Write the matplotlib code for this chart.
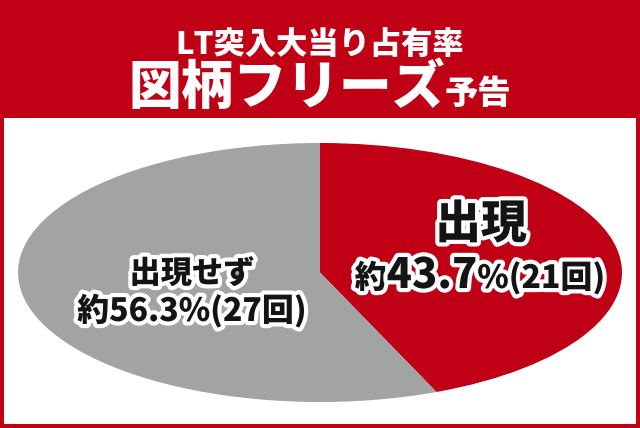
import matplotlib
matplotlib.use("Agg")
import matplotlib.pyplot as plt
import matplotlib.patheffects as pe
from matplotlib.patches import Rectangle

plt.rcParams['font.family'] = ['Noto Sans CJK JP', 'DejaVu Sans']

title_top = "LT突入大当り占有率"
title_main = "図柄フリーズ"
title_sub = "予告"
labels = ["出現", "出現せず"]
shares = [43.7, 56.3]
counts = [21, 27]
slice_colors = ["#BF0015", "#A2A3A5"]
red = "#BF0015"

W, H = 640, 428
fig = plt.figure(figsize=(W / 100, H / 100), dpi=100)
fig.patch.set_facecolor(red)

# white panel under the header
fig.add_artist(Rectangle((4 / W, 4 / H), 632 / W, (H - 118 - 4) / H,
                         transform=fig.transFigure, facecolor="white",
                         edgecolor="none", zorder=0))

# stretched pie
ax = fig.add_axes([18 / W, 26 / H, 604 / W, 259 / H])
ax.pie(shares, colors=slice_colors, startangle=90, counterclock=False,
       wedgeprops=dict(linewidth=0))
ax.set_aspect("auto")
ax.set_xlim(-1, 1)
ax.set_ylim(-1, 1)
ax.axis("off")

renderer = fig.canvas.get_renderer()
outline = [pe.withStroke(linewidth=6, foreground="white")]


def row(pieces, cx, y, color="#141414", effects=None, weight="black"):
    # lay out text pieces of different sizes side by side, centred on cx
    texts = []
    for s, size in pieces:
        t = fig.text(0, y / H, s, fontsize=size, color=color, weight=weight,
                     va="baseline", ha="left", path_effects=effects)
        texts.append(t)
    widths = [t.get_window_extent(renderer).width for t in texts]
    x = cx - sum(widths) / 2
    for t, w in zip(texts, widths):
        t.set_x(x / W)
        x += w


# header
row([(title_top, 22.5)], 320, H - 54, color="white", weight="black")
row([(title_main, 38), (title_sub, 24)], 320, H - 104, color="white")

# slice labels
row([(labels[0], 33)], 481, H - 238, effects=outline)
row([("約", 23), (f"{shares[0]}", 30), (f"%({counts[0]}回)", 23)],
    480, H - 288, effects=outline)
row([(labels[1], 22.5)], 192, H - 283, effects=outline)
row([(f"約{shares[1]}%({counts[1]}回)", 23)], 192, H - 321, effects=outline)

fig.savefig("out.png", dpi=100, facecolor=fig.get_facecolor())
